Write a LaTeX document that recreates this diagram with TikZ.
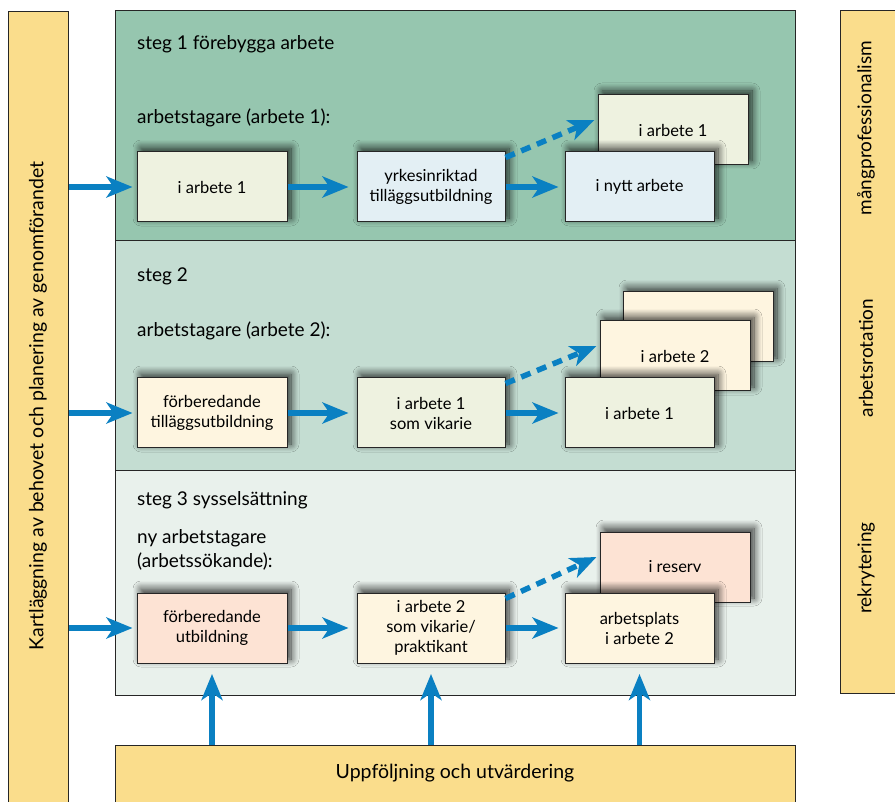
\documentclass[tikz,border=0pt]{standalone}
\usepackage{fontspec}
\setmainfont{Lato}
\usetikzlibrary{arrows.meta,shadows.blur}
\definecolor{bandA}{HTML}{96C6AF}
\definecolor{bandB}{HTML}{C4DDD2}
\definecolor{bandC}{HTML}{E9F1EC}
\definecolor{sidebar}{HTML}{FADD8C}
\definecolor{fillgreen}{HTML}{EEF2E0}
\definecolor{fillblue}{HTML}{E3EFF4}
\definecolor{fillcream}{HTML}{FEF5E0}
\definecolor{fillpink}{HTML}{FDE3D4}
\definecolor{flow}{HTML}{0A80C2}
\tikzset{
  panel/.style={draw=black!85, line width=1pt, anchor=north west, inner sep=0pt},
  stepbox/.style={draw=black!85, line width=1pt, minimum width=150pt, minimum height=70pt,
    align=center, font=\fontsize{16.5}{20}\selectfont, inner sep=2pt,
    blur shadow={shadow xshift=4pt, shadow yshift=4pt, shadow blur steps=10, shadow opacity=80, shadow blur radius=8pt}},
  head/.style={anchor=west, font=\fontsize{19}{24}\selectfont, inner sep=0pt, align=left},
  sidetext/.style={rotate=90, font=\fontsize{19}{24}\selectfont},
  arr/.style={draw=flow, line width=5.5pt, -{Stealth[length=26pt,width=21pt,inset=7pt]}},
  dasharr/.style={arr, dash pattern=on 10pt off 7pt},
}
\begin{document}
\begin{tikzpicture}[x=1pt,y=-1pt]
\useasboundingbox (0,0) rectangle (895,802);
\clip (0,0) rectangle (895,802);
\fill[white] (0,0) rectangle (895,802);

% side and bottom bars
\node[panel, fill=sidebar, minimum width=60pt, minimum height=820pt] (lbar) at (8,11) {};
\node[panel, fill=sidebar, minimum width=70pt, minimum height=683pt] (rbar) at (840,10) {};
\node[panel, fill=sidebar, minimum width=680pt, minimum height=80pt] (bbar) at (115,745) {};

\node[sidetext, font=\fontsize{19.5}{24}\selectfont] (ltxt) at (38,406) {Kartläggning av behovet och planering av genomförandet};
\node[sidetext] (r1) at (866,128) {mångprofessionalism};
\node[sidetext] (r2) at (866,358) {arbetsrotation};
\node[sidetext] (r3) at (866,568) {rekrytering};
\node[font=\fontsize{19.5}{24}\selectfont] (btxt) at (455,773) {Uppföljning och utvärdering};

% three step bands
\node[panel, fill=bandA, minimum width=680pt, minimum height=230pt] (s1) at (115,10) {};
\node[panel, fill=bandB, minimum width=680pt, minimum height=230pt] (s2) at (115,240) {};
\node[panel, fill=bandC, minimum width=680pt, minimum height=225pt] (s3) at (115,470) {};

\node[head] (h1) at (137,44) {steg 1 förebygga arbete};
\node[head] (g1) at (137,118) {arbetstagare (arbete 1):};
\node[head] (h2) at (137,276) {steg 2};
\node[head] (g2) at (137,331) {arbetstagare (arbete 2):};
\node[head] (h3) at (137,500) {steg 3 sysselsättning};
\node[head, anchor=north west] (g3) at (137,529) {ny arbetstagare\\(arbetssökande):};

% step 1 boxes
\node[stepbox, fill=fillgreen] (c1b) at (673,130) {i arbete 1};
\node[stepbox, fill=fillgreen] (a1) at (212,187) {i arbete 1};
\node[stepbox, fill=fillblue, minimum width=148pt] (b1) at (431,187) {yrkesinriktad\\tilläggsutbildning};
\node[stepbox, fill=fillblue, minimum width=149pt] (c1) at (639.5,187) {i nytt arbete};

% step 2 boxes
\node[stepbox, fill=fillcream] (c2bb) at (698,327) {};
\node[stepbox, fill=fillcream] (c2b) at (675,356) {i arbete 2};
\node[stepbox, fill=fillcream] (a2) at (212,413) {förberedande\\tilläggsutbildning};
\node[stepbox, fill=fillgreen, minimum width=148pt] (b2) at (431,413) {i arbete 1\\som vikarie};
\node[stepbox, fill=fillgreen, minimum width=149pt] (c2) at (639.5,413) {i arbete 1};

% step 3 boxes
\node[stepbox, fill=fillpink] (c3b) at (675,567) {i reserv};
\node[stepbox, fill=fillpink] (a3) at (212,628) {förberedande\\utbildning};
\node[stepbox, fill=fillcream, minimum width=148pt] (b3) at (431,628) {i arbete 2\\som vikarie/\\praktikant};
\node[stepbox, fill=fillcream, minimum width=149pt] (c3) at (639.5,628) {arbetsplats\\i arbete 2};

% flows
\foreach \f in {a1,a2,a3} {
  \draw[arr, shorten >=4pt] (lbar.east |- \f) -- (\f.west);
}
\draw[arr, shorten >=8pt] (a1.east) -- (b1.west);
\draw[arr, shorten >=8pt] (a2.east) -- (b2.west);
\draw[arr, shorten >=8pt] (a3.east) -- (b3.west);
\draw[arr, shorten >=6pt] (b1.east) -- (c1.west);
\draw[arr, shorten >=6pt] (b2.east) -- (c2.west);
\draw[arr, shorten >=6pt] (b3.east) -- (c3.west);

\draw[dasharr] (b1.north east) ++(0,6) coordinate (d1s) -- ($(c1b.west)+(-3,-10)$) coordinate (d1e);
\draw[dasharr] (b2.north east) ++(0,6) coordinate (d2s) -- ($(c2b.west)+(-3,-10)$) coordinate (d2e);
\draw[dasharr] (b3.north east) ++(0,6) coordinate (d3s) -- ($(c3b.west)+(-3,-10)$) coordinate (d3e);

\foreach \f in {a3,b3,c3} {
  \coordinate (\f-up) at (\f |- 0,674);
  \draw[arr] (bbar.north -| \f) -- (\f-up);
}
\end{tikzpicture}
\end{document}
